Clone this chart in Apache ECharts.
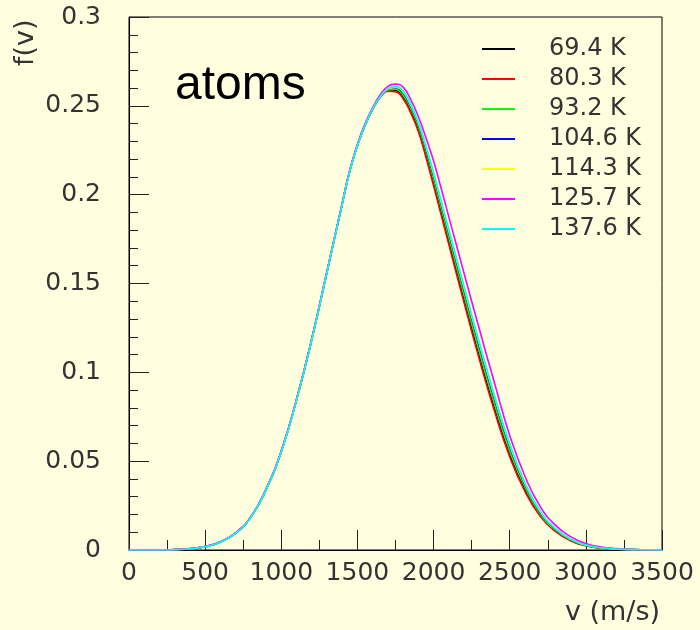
<!DOCTYPE html>
<html>
<head>
<meta charset="utf-8">
<script src="https://cdn.jsdelivr.net/npm/echarts@6/dist/echarts.min.js"></script>
<style>
  html, body { margin: 0; padding: 0; background: #ffffe0; }
  #main { width: 700px; height: 630px; }
</style>
</head>
<body>
<div id="main"></div>
<script>
// speed grid (m/s), finer around the peak
const speeds = [0, 100, 200, 300, 400, 500, 600, 700, 800, 900,
  1000, 1100, 1200, 1300, 1400, 1450, 1500, 1550, 1600, 1650,
  1700, 1750, 1800, 1850, 1900, 1950, 2000, 2050, 2100, 2200,
  2300, 2400, 2500, 2600, 2700, 2800, 2900, 3000, 3100, 3200,
  3300, 3400, 3500];

const temps = ['69.4 K', '80.3 K', '93.2 K', '104.6 K', '114.3 K', '125.7 K', '137.6 K'];

// f(v), one list per temperature
const f69 = [0, 0, 0, 0.0002, 0.0007, 0.0019, 0.0045, 0.0095, 0.0185, 0.0340,
  0.0555, 0.0845, 0.1185, 0.1565, 0.1948, 0.2135, 0.2277, 0.2391, 0.2481, 0.2550,
  0.2586, 0.2585, 0.2548, 0.2470, 0.2367, 0.2225, 0.2065, 0.1900, 0.1735, 0.1408,
  0.1090, 0.0795, 0.0535, 0.0338, 0.0195, 0.0108, 0.0054, 0.0025, 0.0011, 0.0005,
  0.0002, 0.0001, 0];
const f80 = [0, 0, 0, 0.0002, 0.0007, 0.0019, 0.0045, 0.0095, 0.0185, 0.0340,
  0.0555, 0.0845, 0.1185, 0.1565, 0.1948, 0.2135, 0.2276, 0.2390, 0.2480, 0.2548,
  0.2583, 0.2580, 0.2540, 0.2460, 0.2355, 0.2210, 0.2050, 0.1885, 0.1720, 0.1393,
  0.1075, 0.0782, 0.0525, 0.0330, 0.0190, 0.0105, 0.0052, 0.0024, 0.0011, 0.0005,
  0.0002, 0.0001, 0];
const f93 = [0, 0, 0, 0.0002, 0.0007, 0.0019, 0.0045, 0.0095, 0.0185, 0.0340,
  0.0555, 0.0845, 0.1185, 0.1565, 0.1948, 0.2135, 0.2277, 0.2391, 0.2482, 0.2551,
  0.2590, 0.2593, 0.2560, 0.2485, 0.2385, 0.2245, 0.2088, 0.1925, 0.1760, 0.1437,
  0.1120, 0.0825, 0.0560, 0.0355, 0.0204, 0.0113, 0.0057, 0.0026, 0.0012, 0.0005,
  0.0002, 0.0001, 0];
const f104 = [0, 0, 0, 0.0002, 0.0007, 0.0019, 0.0045, 0.0095, 0.0185, 0.0340,
  0.0555, 0.0845, 0.1185, 0.1565, 0.1948, 0.2135, 0.2278, 0.2392, 0.2482, 0.2552,
  0.2593, 0.2600, 0.2572, 0.2497, 0.2398, 0.2260, 0.2107, 0.1947, 0.1785, 0.1463,
  0.1148, 0.0850, 0.0582, 0.0368, 0.0212, 0.0118, 0.0060, 0.0028, 0.0013, 0.0006,
  0.0002, 0.0001, 0];
const f114 = [0, 0, 0, 0.0002, 0.0007, 0.0019, 0.0045, 0.0095, 0.0185, 0.0340,
  0.0555, 0.0845, 0.1185, 0.1565, 0.1948, 0.2135, 0.2278, 0.2392, 0.2483, 0.2552,
  0.2595, 0.2604, 0.2578, 0.2503, 0.2404, 0.2268, 0.2116, 0.1956, 0.1795, 0.1475,
  0.1160, 0.0861, 0.0592, 0.0374, 0.0216, 0.0120, 0.0061, 0.0028, 0.0013, 0.0006,
  0.0002, 0.0001, 0];
const f125 = [0, 0, 0, 0.0002, 0.0008, 0.0020, 0.0047, 0.0097, 0.0188, 0.0344,
  0.0560, 0.0850, 0.1190, 0.1570, 0.1952, 0.2140, 0.2284, 0.2400, 0.2490, 0.2562,
  0.2610, 0.2622, 0.2605, 0.2535, 0.2440, 0.2320, 0.2190, 0.2035, 0.1875, 0.1558,
  0.1245, 0.0940, 0.0645, 0.0415, 0.0245, 0.0140, 0.0075, 0.0036, 0.0017, 0.0008,
  0.0003, 0.0001, 0];
const f137 = [0, 0, 0, 0.0002, 0.0007, 0.0019, 0.0045, 0.0095, 0.0185, 0.0340,
  0.0555, 0.0845, 0.1185, 0.1565, 0.1948, 0.2135, 0.2278, 0.2392, 0.2483, 0.2552,
  0.2597, 0.2608, 0.2585, 0.2510, 0.2410, 0.2275, 0.2125, 0.1965, 0.1805, 0.1485,
  0.1170, 0.0870, 0.0600, 0.0380, 0.0220, 0.0122, 0.0062, 0.0029, 0.0013, 0.0006,
  0.0002, 0.0001, 0];

const curves = [f69, f80, f93, f104, f114, f125, f137];
const colors = ['#000000', '#ff0000', '#00ff00', '#0000ff', '#ffff00', '#ff00ff', '#00ffff'];

const myChart = echarts.init(document.getElementById('main'));
const font = 'DejaVu Sans';
const ink = '#333';

let option = {
  backgroundColor: '#ffffe0',
  animation: false,
  grid: {
    left: 129,
    right: 38,
    top: 17,
    bottom: 80,
    show: true,
    borderColor: '#000',
    borderWidth: 1
  },
  legend: {
    orient: 'vertical',
    left: 477,
    top: 29,
    itemGap: 0,
    itemWidth: 33,
    itemHeight: 2,
    icon: 'rect',
    data: temps,
    textStyle: {
      fontFamily: font,
      fontSize: 24,
      color: ink,
      lineHeight: 30,
      padding: [0, 0, 0, 29]
    }
  },
  xAxis: {
    type: 'value',
    min: 0,
    max: 3500,
    interval: 500,
    axisLine: { lineStyle: { color: '#000', width: 1 } },
    axisTick: { inside: true, length: 20, lineStyle: { color: '#222' } },
    minorTick: { show: true, splitNumber: 2, length: 10, lineStyle: { color: '#222' } },
    splitLine: { show: false },
    axisLabel: {
      margin: 11, fontFamily: font, fontSize: 25, color: ink,
      formatter: (v) => String(v)
    }
  },
  yAxis: {
    type: 'value',
    min: 0,
    max: 0.3,
    interval: 0.05,
    axisLine: { show: true, lineStyle: { color: '#000', width: 1 } },
    axisTick: { show: true, inside: true, length: 20, lineStyle: { color: '#222' } },
    minorTick: { show: true, splitNumber: 5, length: 9, lineStyle: { color: '#222' } },
    splitLine: { show: false },
    axisLabel: { margin: 28, fontFamily: font, fontSize: 25, color: ink }
  },
  graphic: [
    {
      type: 'text',
      left: 175,
      top: 62,
      style: { text: 'atoms', fontFamily: 'Liberation Sans', fontSize: 48, fill: '#000' }
    },
    {
      type: 'text',
      right: 40,
      top: 599,
      style: { text: 'v (m/s)', fontFamily: font, fontSize: 27, fill: ink }
    },
    {
      type: 'text',
      x: 12,
      y: 66,
      rotation: Math.PI / 2,
      style: { text: 'f(v)', fontFamily: font, fontSize: 27, fill: ink }
    }
  ],
  series: curves.map((vals, i) => ({
    name: temps[i],
    type: 'line',
    smooth: true,
    showSymbol: false,
    color: colors[i],
    lineStyle: { width: 1.6, color: colors[i] },
    data: speeds.map((v, j) => [v, vals[j]])
  }))
};

myChart.setOption(option);
</script>
</body>
</html>
